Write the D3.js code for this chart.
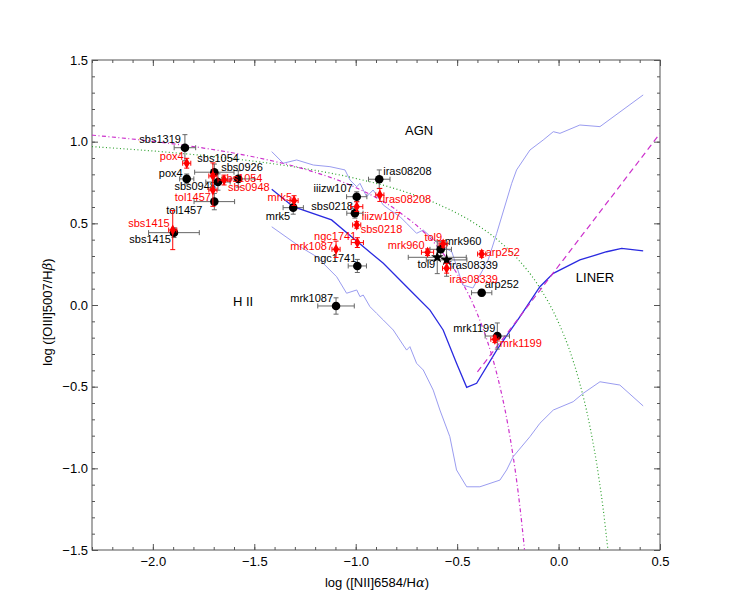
<!DOCTYPE html>
<html>
<head>
<meta charset="utf-8">
<script src="https://cdn.jsdelivr.net/npm/d3@7"></script>
<style>
	body { margin: 0; background: #fff; }
	svg { font-family: "Liberation Sans", Arial, sans-serif; }
</style>
</head>
<body>
<svg width="734" height="611"></svg>
<script>
// tick labels
const xTicks = [-2.0, -1.5, -1.0, -0.5, 0.0, 0.5];
const yTicks = [-1.5, -1.0, -0.5, 0.0, 0.5, 1.0, 1.5];

// black points (first measurement)
const blackNames = ["sbs1319", "sbs1054", "pox4", "sbs0926", "sbs0948", "tol1457", "sbs1415", "mrk5", "iiizw107", "sbs0218", "iras08208", "ngc1741", "mrk1087", "mrk960", "tol9", "iras08339", "arp252", "mrk1199"];
const blackX = [-1.842, -1.697, -1.833, -1.579, -1.679, -1.697, -1.896, -1.308, -0.995, -1.004, -0.884, -0.992, -1.097, -0.581, -0.598, -0.552, -0.379, -0.302];
const blackY = [0.963, 0.813, 0.772, 0.772, 0.753, 0.633, 0.443, 0.596, 0.663, 0.562, 0.770, 0.239, -0.006, 0.341, 0.292, 0.276, 0.075, -0.19];
const blackXErr = [0.053, 0.097, 0.035, 0.08, 0.06, 0.1, 0.125, 0.05, 0.05, 0.04, 0.053, 0.045, 0.09, 0.053, 0.143, 0.1, 0.05, 0.06];
const blackYErr = [0.08, 0.05, 0.03, 0.05, 0.05, 0.05, 0.03, 0.04, 0.03, 0.03, 0.057, 0.04, 0.05, 0.05, 0.1, 0.1, 0.02, 0.08];
const blackStars = ["tol9", "iras08339"];

// red points (second measurement)
const redNames = ["pox4", "sbs1054", "sbs0948", "tol1457", "sbs1415", "mrk5", "iras08208", "iiizw107", "sbs0218", "ngc1741", "mrk1087", "mrk960", "tol9", "iras08339", "arp252", "mrk1199"];
const redX = [-1.833, -1.704, -1.649, -1.704, -1.902, -1.304, -0.881, -0.995, -0.995, -0.992, -1.097, -0.646, -0.569, -0.552, -0.379, -0.314];
const redY = [0.868, 0.790, 0.765, 0.704, 0.459, 0.639, 0.674, 0.602, 0.49, 0.382, 0.341, 0.323, 0.374, 0.225, 0.312, -0.21];
const redXErr = [0.02, 0.02, 0.03, 0.02, 0.02, 0.02, 0.02, 0.03, 0.02, 0.03, 0.02, 0.03, 0.02, 0.02, 0.02, 0.02];
const redYErr = [0.03, 0.08, 0.03, 0.1, 0.12, 0.03, 0.04, 0.03, 0.02, 0.03, 0.05, 0.02, 0.02, 0.03, 0.02, 0.02];

// demarcation curves
const kewleyX = [-2.3, -2.0, -1.75, -1.5, -1.25, -1.0, -0.8, -0.6, -0.4, -0.3, -0.2, -0.1, 0.0, 0.05, 0.1, 0.15, 0.2, 0.22, 0.243];
const kewleyY = [0.970, 0.943, 0.915, 0.880, 0.835, 0.775, 0.710, 0.620, 0.489, 0.398, 0.280, 0.120, -0.108, -0.262, -0.459, -0.716, -1.069, -1.25, -1.497];
const kauffX = [-2.3, -2.0, -1.75, -1.5, -1.25, -1.0, -0.8, -0.6, -0.5, -0.4, -0.35, -0.3, -0.25, -0.2, -0.18, -0.168];
const kauffY = [1.040, 1.002, 0.961, 0.906, 0.831, 0.719, 0.582, 0.362, 0.191, -0.056, -0.225, -0.443, -0.733, -1.14, -1.352, -1.498];
const liner_X = [-0.40, 0.50];
const liner_Y = [-0.41, 1.05];

// model sequence and its envelope
const modelX = [-1.414, -1.308, -1.119, -1.012, -0.864, -0.733, -0.634, -0.569, -0.503, -0.453, -0.404, -0.305, -0.191, -0.092, -0.026, 0.105, 0.237, 0.311, 0.417];
const modelY = [0.709, 0.602, 0.521, 0.408, 0.255, 0.092, -0.031, -0.153, -0.357, -0.504, -0.479, -0.276, -0.072, 0.112, 0.194, 0.276, 0.326, 0.347, 0.331];
const upperX = [-1.414, -1.357, -1.291, -1.209, -1.127, -1.053, -1.028, -0.995, -0.979, -0.946, -0.914, -0.864, -0.831, -0.782, -0.749, -0.7, -0.667, -0.585, -0.526, -0.472, -0.422, -0.347, -0.305, -0.231, -0.207, -0.141, -0.076, -0.026, 0.007, 0.105, 0.204, 0.417];
const upperY = [0.939, 0.868, 0.888, 0.857, 0.847, 0.827, 0.765, 0.724, 0.745, 0.663, 0.704, 0.612, 0.582, 0.541, 0.5, 0.439, 0.459, 0.367, 0.325, 0.122, 0.104, 0.276, 0.439, 0.745, 0.827, 0.949, 1.01, 1.061, 1.051, 1.102, 1.092, 1.286];
const lowerX = [-1.414, -1.275, -1.193, -1.094, -1.045, -0.995, -0.979, -0.963, -0.93, -0.897, -0.864, -0.815, -0.766, -0.749, -0.733, -0.7, -0.667, -0.618, -0.585, -0.536, -0.503, -0.453, -0.388, -0.289, -0.256, -0.224, -0.141, -0.092, -0.026, 0.072, 0.121, 0.204, 0.302, 0.417];
const lowerY = [0.479, 0.357, 0.296, 0.173, 0.072, 0.092, 0.051, 0.061, -0.01, -0.051, -0.092, -0.153, -0.245, -0.276, -0.255, -0.357, -0.398, -0.521, -0.643, -0.806, -1.01, -1.113, -1.113, -1.072, -1.01, -0.929, -0.806, -0.724, -0.643, -0.592, -0.541, -0.47, -0.49, -0.618];

// region names
const regionNames = ["AGN", "H II", "LINER"];
const regionX = [-0.757, -1.605, 0.085];
const regionY = [1.041, -0.006, 0.141];

// where each point label sits relative to its marker: [dx, dy, anchor]
const blackLabelPos = {
	sbs1319: [-4, -5, "end"], sbs1054: [-17, -10, "start"], pox4: [-4, -2, "end"],
	sbs0926: [-17, -8, "start"], sbs0948: [-2, 8, "end"], tol1457: [-12, 12, "end"],
	sbs1415: [-3, 10, "end"], mrk5: [-3, 12, "end"], iiizw107: [-4, -5, "end"],
	sbs0218: [-2, -3, "end"], iras08208: [4, -4, "start"], ngc1741: [-1, -4, "end"],
	mrk1087: [-3, -4, "end"], mrk960: [4, -4, "start"], tol9: [-2, 11, "end"],
	iras08339: [3, 9, "start"], arp252: [3, -5, "start"], mrk1199: [-2, -4, "end"],
};
const redLabelPos = {
	pox4: [-3, -3, "end"], sbs1054: [8, 6, "start"], sbs0948: [4, 11, "start"],
	tol1457: [-2, 11, "end"], sbs1415: [-3, -3, "end"], mrk5: [-2, 0, "end"],
	iras08208: [3, 8, "start"], iiizw107: [5, 13, "start"], sbs0218: [4, 8, "start"],
	ngc1741: [-1, -3, "end"], mrk1087: [-3, 1, "end"], mrk960: [-3, -3, "end"],
	tol9: [-1, -3, "end"], iras08339: [3, 15, "start"], arp252: [4, 2, "start"],
	mrk1199: [5, 8, "start"],
};

class BptChart {
	constructor() {
		this.svg = d3.select("svg");
		this.margin = { left: 92, top: 60 };
		this.width = 568;
		this.height = 490;
		this.xScale = d3.scaleLinear().domain([-2.3, 0.5]).range([0, this.width]);
		this.yScale = d3.scaleLinear().domain([-1.5, 1.5]).range([this.height, 0]);
		this.g = this.svg
			.append("g")
			.attr("transform", "translate(" + this.margin.left + "," + this.margin.top + ")");
		this.svg
			.append("defs")
			.append("clipPath")
			.attr("id", "plotClip")
			.append("rect")
			.attr("width", this.width)
			.attr("height", this.height);
		this.drawGraph();
	}

	drawGraph = () => {
		this.drawAxes();
		let curves = this.g.append("g").attr("clip-path", "url(#plotClip)");
		this.drawCurves(curves);
		let points = this.g.append("g");
		this.drawPoints(points, blackNames, blackX, blackY, blackXErr, blackYErr, "black");
		this.drawPoints(points, redNames, redX, redY, redXErr, redYErr, "red");
		this.drawRegions();
	};

	drawAxes = () => {
		const fmt = d3.format(".1f");
		const xMinor = d3.range(-23, 6).map((d) => d / 10);
		const yMinor = d3.range(-15, 16).map((d) => d / 10);
		const frameColor = "#555";

		// minor ticks, all four sides
		const minor = [
			[d3.axisBottom(this.xScale).tickValues(xMinor), this.height],
			[d3.axisTop(this.xScale).tickValues(xMinor), 0],
		];
		minor.forEach(([ax, y]) => {
			this.g.append("g")
				.attr("class", "minor")
				.attr("transform", "translate(0," + y + ")")
				.call(ax.tickSize(-3).tickFormat(""));
		});
		const minorY = [
			[d3.axisLeft(this.yScale).tickValues(yMinor), 0],
			[d3.axisRight(this.yScale).tickValues(yMinor), this.width],
		];
		minorY.forEach(([ax, x]) => {
			this.g.append("g")
				.attr("class", "minor")
				.attr("transform", "translate(" + x + ",0)")
				.call(ax.tickSize(-3).tickFormat(""));
		});

		// major ticks with labels on bottom / left
		this.g.append("g")
			.attr("class", "major")
			.attr("transform", "translate(0," + this.height + ")")
			.call(d3.axisBottom(this.xScale).tickValues(xTicks).tickSize(-6).tickPadding(7).tickFormat(fmt));
		this.g.append("g")
			.attr("class", "major")
			.call(d3.axisTop(this.xScale).tickValues(xTicks).tickSize(-6).tickFormat(""));
		this.g.append("g")
			.attr("class", "major")
			.call(d3.axisLeft(this.yScale).tickValues(yTicks).tickSize(-6).tickPadding(4).tickFormat(fmt));
		this.g.append("g")
			.attr("class", "major")
			.attr("transform", "translate(" + this.width + ",0)")
			.call(d3.axisRight(this.yScale).tickValues(yTicks).tickSize(-6).tickFormat(""));

		this.g.selectAll(".minor .domain, .major .domain").remove();
		this.g.selectAll(".tick line").attr("stroke", frameColor);
		this.g.selectAll(".tick text")
			.attr("font-size", "13px")
			.attr("font-family", "'Liberation Sans', Arial, sans-serif")
			.attr("fill", "#000");

		this.g.append("rect")
			.attr("width", this.width)
			.attr("height", this.height)
			.attr("fill", "none")
			.attr("stroke", frameColor)
			.attr("stroke-width", 1);

		// axis titles
		let xt = this.svg.append("text")
			.attr("x", 377)
			.attr("y", 587)
			.attr("text-anchor", "middle")
			.attr("font-size", "13px");
		xt.append("tspan").text("log ([NII]6584/H");
		xt.append("tspan").attr("font-family", "'DejaVu Serif', serif").attr("font-style", "italic").text("α");
		xt.append("tspan").text(")");

		let yt = this.svg.append("text")
			.attr("transform", "translate(52,312) rotate(-90)")
			.attr("text-anchor", "middle")
			.attr("font-size", "13px");
		yt.append("tspan").text("log ([OIII]5007/H");
		yt.append("tspan").attr("font-family", "'DejaVu Serif', serif").attr("font-style", "italic").text("β");
		yt.append("tspan").text(")");
	};

	lineOf = (xs, ys, curve) => {
		return d3
			.line()
			.x((d, i) => this.xScale(xs[i]))
			.y((d, i) => this.yScale(ys[i]))
			.curve(curve || d3.curveLinear)(xs);
	};

	drawCurves = (g) => {
		// model envelope
		g.append("path")
			.attr("d", this.lineOf(upperX, upperY))
			.attr("fill", "none")
			.attr("stroke", "#9a9cf0")
			.attr("stroke-width", 1);
		g.append("path")
			.attr("d", this.lineOf(lowerX, lowerY))
			.attr("fill", "none")
			.attr("stroke", "#9a9cf0")
			.attr("stroke-width", 1);
		// model sequence
		g.append("path")
			.attr("d", this.lineOf(modelX, modelY))
			.attr("fill", "none")
			.attr("stroke", "#2a2ae0")
			.attr("stroke-width", 1.3);
		// Kewley (max starburst)
		g.append("path")
			.attr("d", this.lineOf(kewleyX, kewleyY, d3.curveMonotoneX))
			.attr("fill", "none")
			.attr("stroke", "#2ea02e")
			.attr("stroke-width", 1.2)
			.attr("stroke-dasharray", "1,2.5");
		// Kauffmann
		g.append("path")
			.attr("d", this.lineOf(kauffX, kauffY, d3.curveMonotoneX))
			.attr("fill", "none")
			.attr("stroke", "#cc30cc")
			.attr("stroke-width", 1.2)
			.attr("stroke-dasharray", "4,2.5,1,2.5");
		// Seyfert / LINER division
		g.append("path")
			.attr("d", this.lineOf(liner_X, liner_Y))
			.attr("fill", "none")
			.attr("stroke", "#cc30cc")
			.attr("stroke-width", 1.2)
			.attr("stroke-dasharray", "6,4");
	};

	drawPoints = (g, names, xs, ys, xe, ye, kind) => {
		const isRed = kind === "red";
		const barColor = isRed ? "#f00" : "#666";
		const cap = 2.5;
		let grp = g.append("g").attr("class", kind);

		names.forEach((name, i) => {
			const cx = this.xScale(xs[i]);
			const cy = this.yScale(ys[i]);
			const x0 = this.xScale(xs[i] - xe[i]);
			const x1 = this.xScale(xs[i] + xe[i]);
			const y0 = this.yScale(ys[i] + ye[i]);
			const y1 = this.yScale(ys[i] - ye[i]);
			let eb = grp.append("g")
				.attr("stroke", barColor)
				.attr("stroke-width", 1)
				.attr("fill", "none");
			eb.append("path").attr("d", `M${x0},${cy}H${x1}M${x0},${cy - cap}V${cy + cap}M${x1},${cy - cap}V${cy + cap}`);
			eb.append("path").attr("d", `M${cx},${y0}V${y1}M${cx - cap},${y0}H${cx + cap}M${cx - cap},${y1}H${cx + cap}`);
		});

		names.forEach((name, i) => {
			const cx = this.xScale(xs[i]);
			const cy = this.yScale(ys[i]);
			if (isRed) {
				grp.append("path")
					.attr("d", d3.symbol(d3.symbolDiamond, 34)())
					.attr("transform", "translate(" + cx + "," + cy + ")")
					.attr("fill", "#f00");
			} else if (blackStars.includes(name)) {
				grp.append("path")
					.attr("d", d3.symbol(d3.symbolStar, 48)())
					.attr("transform", "translate(" + cx + "," + cy + ")")
					.attr("fill", "#000");
			} else {
				grp.append("circle")
					.attr("cx", cx)
					.attr("cy", cy)
					.attr("r", 4.3)
					.attr("fill", "#000");
			}
		});

		const pos = isRed ? redLabelPos : blackLabelPos;
		names.forEach((name, i) => {
			const p = pos[name] || [4, -4, "start"];
			grp.append("text")
				.attr("x", this.xScale(xs[i]) + p[0])
				.attr("y", this.yScale(ys[i]) + p[1])
				.attr("text-anchor", p[2])
				.attr("font-size", "11px")
				.attr("fill", isRed ? "#f00" : "#000")
				.text(name);
		});
	};

	drawRegions = () => {
		regionNames.forEach((name, i) => {
			this.g.append("text")
				.attr("x", this.xScale(regionX[i]))
				.attr("y", this.yScale(regionY[i]))
				.attr("font-size", "13px")
				.attr("fill", "#000")
				.text(name);
		});
	};
}

new BptChart();
</script>
</body>
</html>
